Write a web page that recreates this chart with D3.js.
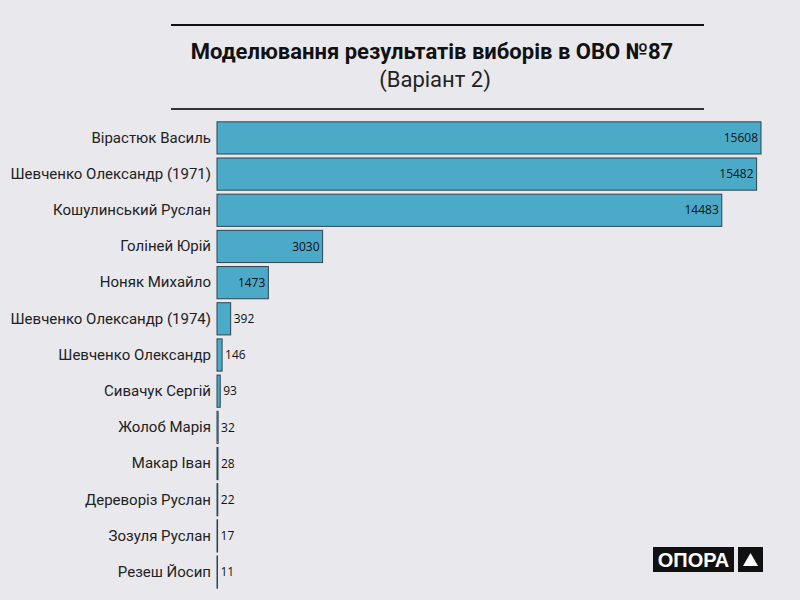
<!DOCTYPE html>
<html>
<head>
<meta charset="utf-8">
<script src="https://cdn.jsdelivr.net/npm/d3@7"></script>
<style>
  body { margin: 0; background: #e9e8ed; }
  svg { display: block; }
</style>
</head>
<body>
<div id="chart"></div>
<script>
// Дані
const candidates = [
  "Вірастюк Василь", "Шевченко Олександр (1971)", "Кошулинський Руслан",
  "Голіней Юрій", "Ноняк Михайло", "Шевченко Олександр (1974)",
  "Шевченко Олександр", "Сивачук Сергій", "Жолоб Марія", "Макар Іван",
  "Дереворіз Руслан", "Зозуля Руслан", "Резеш Йосип"
];
const votes = [15608, 15482, 14483, 3030, 1473, 392, 146, 93, 32, 28, 22, 17, 11];
const titleLines = ["Моделювання результатів виборів в ОВО №87", "(Варіант 2)"];

const width = 800, height = 600;
const margin = {top: 120, right: 39, bottom: 10, left: 217};

const svg = d3.select('#chart').append('svg')
  .attr('width', width)
  .attr('height', height);

svg.append('rect').attr('width', width).attr('height', height).attr('fill', '#e9e8ed');

// Заголовок
svg.append('line').attr('x1', 171).attr('x2', 704).attr('y1', 25).attr('y2', 25)
  .attr('stroke', '#111').attr('stroke-width', 2);
svg.append('line').attr('x1', 171).attr('x2', 704).attr('y1', 109).attr('y2', 109)
  .attr('stroke', '#333').attr('stroke-width', 2);
svg.append('text').attr('x', 432).attr('y', 59)
  .attr('text-anchor', 'middle')
  .style('font-family', 'Roboto').style('font-weight', 'bold').style('font-size', '22px')
  .attr('fill', '#111').text(titleLines[0]);
svg.append('text').attr('x', 435).attr('y', 87)
  .attr('text-anchor', 'middle')
  .style('font-family', 'Roboto').style('font-size', '22px')
  .attr('fill', '#222').text(titleLines[1]);

// Шкали
const x = d3.scaleLinear()
  .domain([0, d3.max(votes)])
  .range([margin.left, width - margin.right]);

const y = d3.scaleBand()
  .domain(candidates)
  .range([margin.top, height - margin.bottom])
  .paddingInner(0.11)
  .paddingOuter(0.05);

// Вісь з іменами
const yAxis = svg.append('g')
  .attr('transform', `translate(${margin.left},0)`)
  .call(d3.axisLeft(y).tickSize(0).tickPadding(6));
yAxis.select('.domain').remove();
yAxis.selectAll('text')
  .style('font-family', 'Roboto').style('font-size', '15px')
  .attr('fill', '#222');

const data = candidates.map((c, i) => ({name: c, value: votes[i]}));

// Стовпчики
svg.append('g').selectAll('rect')
  .data(data)
  .join('rect')
  .attr('x', x(0))
  .attr('y', d => y(d.name))
  .attr('width', d => Math.max(x(d.value) - x(0), 0.5))
  .attr('height', y.bandwidth())
  .attr('fill', '#4aaac8')
  .attr('stroke', '#2e4651')
  .attr('stroke-width', 1);

// Підписи значень
const labels = svg.append('g').selectAll('text')
  .data(data)
  .join('text')
  .attr('y', d => y(d.name) + y.bandwidth() / 2)
  .attr('dy', '0.35em')
  .style('font-family', 'Open Sans').style('font-size', '12px')
  .attr('fill', '#111')
  .text(d => d.value);

labels.each(function(d) {
  const w = this.getComputedTextLength();
  const barW = x(d.value) - x(0);
  const t = d3.select(this);
  if (barW > w + 8) {
    t.attr('x', x(d.value) - 3).attr('text-anchor', 'end');
  } else {
    t.attr('x', x(d.value) + 3).attr('text-anchor', 'start');
  }
});

// Логотип
const logo = svg.append('g').attr('transform', 'translate(653,547)');
logo.append('rect').attr('width', 81).attr('height', 25).attr('fill', '#111');
logo.append('text').attr('x', 40.5).attr('y', 20)
  .attr('text-anchor', 'middle')
  .style('font-family', 'Liberation Sans').style('font-weight', 'bold').style('font-size', '20px')
  .attr('fill', '#fff').text('ОПОРА');
logo.append('rect').attr('x', 85).attr('width', 25).attr('height', 25).attr('fill', '#111');
logo.append('path').attr('d', 'M97.5,6 L105,19 L90,19 Z').attr('fill', '#fff');
</script>
</body>
</html>
